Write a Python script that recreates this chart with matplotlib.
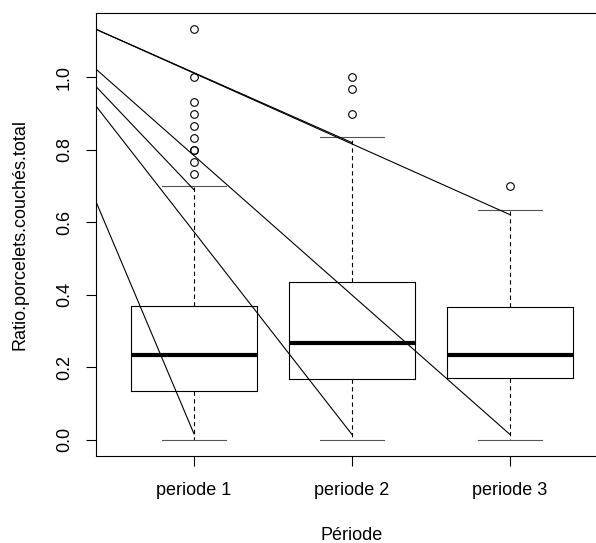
import matplotlib
matplotlib.use("Agg")
import matplotlib.pyplot as plt

plt.rcParams['font.family'] = ['Liberation Sans', 'DejaVu Sans']
plt.rcParams['lines.scale_dashes'] = False

# ---- data ----
categories = ["periode 1", "periode 2", "periode 3"]
q1 = [0.134, 0.168, 0.169]
medians = [0.234, 0.267, 0.234]
q3 = [0.368, 0.435, 0.367]
whisker_low = [0.0, 0.0, 0.0]
whisker_high = [0.70, 0.835, 0.633]
outliers = [
    [1.133, 1.0, 0.933, 0.9, 0.867, 0.833, 0.8, 0.8, 0.767, 0.733],
    [1.0, 0.967, 0.9],
    [0.70],
]
# extra line segments drawn over the plot (start at left border)
seg_x0 = [0.38, 0.38, 0.38, 0.38, 0.38, 0.38]
seg_y0 = [1.133, 1.133, 1.023, 0.975, 0.921, 0.657]
seg_x1 = [3, 2, 3, 1, 2, 1]
seg_y1 = [0.621, 0.82, 0.014, 0.69, 0.014, 0.016]

y_ticks = [0.0, 0.2, 0.4, 0.6, 0.8, 1.0]
y_ticklabels = ["0.0", "0.2", "0.4", "0.6", "0.8", "1.0"]
xlabel = "Période"
ylabel = "Ratio.porcelets.couchés.total"

# ---- figure ----
W, H = 596, 543
fig = plt.figure(figsize=(W / 100, H / 100), dpi=100)
left, right, top, bottom = 96, 608, 13, 456
ax = fig.add_axes([left / W, 1 - bottom / H, (right - left) / W, (bottom - top) / H])

stats = []
for i in range(len(categories)):
    stats.append(dict(med=medians[i], q1=q1[i], q3=q3[i],
                      whislo=whisker_low[i], whishi=whisker_high[i],
                      fliers=outliers[i], label=categories[i]))

positions = list(range(1, len(categories) + 1))
lw = 0.8
ax.bxp(stats, positions=positions, widths=0.8, capwidths=0.4,
       boxprops=dict(color='black', linewidth=lw),
       whiskerprops=dict(color='black', linewidth=lw, linestyle=(0, (3.1, 2.4))),
       capprops=dict(color='#555555', linewidth=lw),
       medianprops=dict(color='black', linewidth=3.0, solid_capstyle='butt'),
       flierprops=dict(marker='o', markerfacecolor='none', markeredgecolor='black',
                       markersize=5.5, markeredgewidth=0.8))

for x0, y0, x1, y1 in zip(seg_x0, seg_y0, seg_x1, seg_y1):
    ax.plot([x0, x1], [y0, y1], color='black', linewidth=0.8)

ax.set_xlim(0.38, 3.62)
ax.set_ylim(-0.0453, 1.178)

ax.set_yticks(y_ticks)
ax.set_yticklabels(y_ticklabels, rotation=90, va='center')
ax.set_xticks(positions)
ax.set_xticklabels(categories)
ax.tick_params(axis='both', direction='out', length=7.5, width=0.8, labelsize=13, colors='black')
ax.tick_params(axis='x', pad=11.5)
ax.tick_params(axis='y', pad=9)

for s in ax.spines.values():
    s.set_linewidth(0.8)
    s.set_color('black')

ax.set_xlabel(xlabel, fontsize=13, labelpad=20)
ax.set_ylabel(ylabel, fontsize=13, labelpad=20)

fig.savefig("out.png", dpi=100)
